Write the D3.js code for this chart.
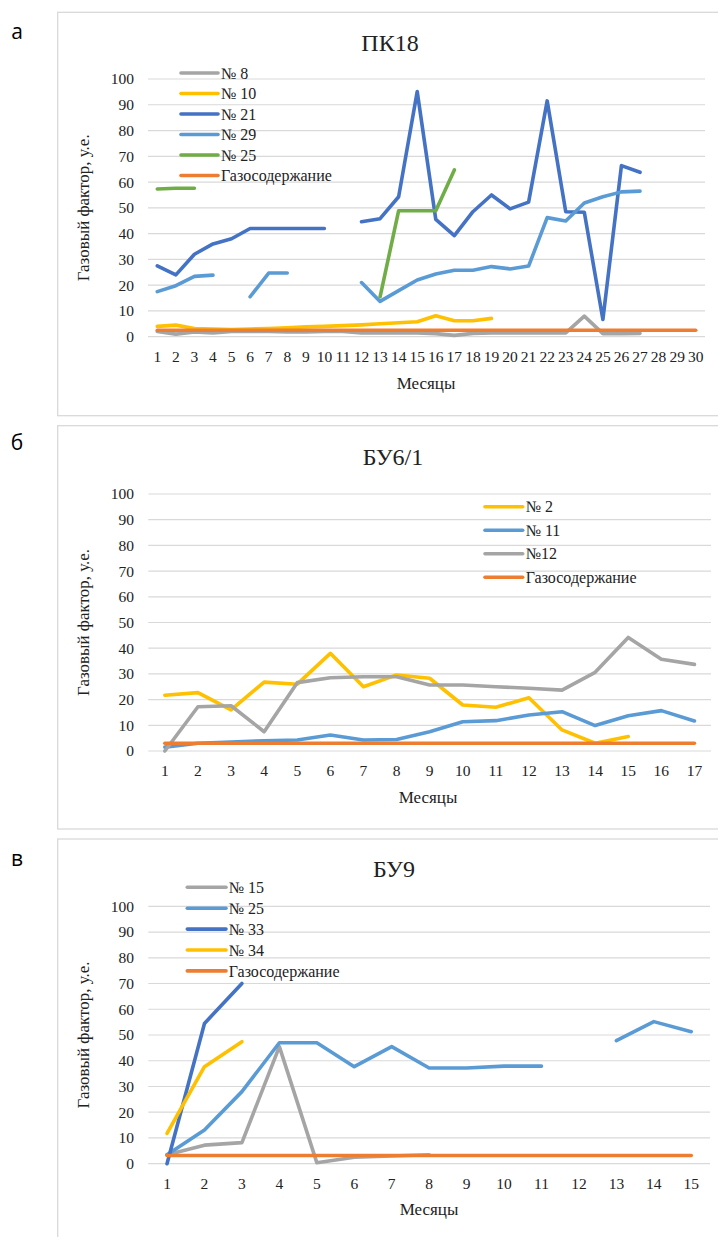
<!DOCTYPE html>
<html>
<head>
    <meta charset="UTF-8">
    <script src="https://d3js.org/d3.v7.min.js"></script>
</head>
<body style="margin:0">
<script>
    // Panel a: ПК18, months 1..30
    const monthsA = d3.range(1, 31);
    const pk_n8  = [2, 1, 1.8, 1.5, 2, 2, 2, 1.8, 1.8, 2, 2, 1.5, 1.5, 1.5, 1.5, 1.2, 0.5, 1.3, 1.5, 1.5, 1.5, 1.5, 1.5, 8, 1.2, 1.2, 1.3];
    const pk_n10 = [4, 4.5, 3.2, 3, 2.8, 3, 3.2, 3.5, 3.8, 4, 4.3, 4.6, 5, 5.4, 5.8, 8.1, 6.2, 6.2, 7.1];
    const pk_n21 = [27.5, 24, 32, 36, 38, 42, 42, 42, 42, 42, null, 44.6, 45.8, 54.3, 95.1, 45.5, 39.2, 48.5, 55, 49.6, 52.2, 91.5, 48.5, 48.3, 6.7, 66.4, 63.8];
    const pk_n29 = [17.5, 19.8, 23.4, 23.9, null, 15.5, 24.7, 24.7, null, null, null, 21, 13.7, 17.9, 22, 24.3, 25.8, 25.8, 27.2, 26.3, 27.4, 46.2, 44.9, 51.9, 54.3, 56.2, 56.5];
    const pk_n25 = [57.3, 57.6, 57.6, null, null, null, null, null, null, null, null, null, 15.5, 48.9, 48.9, 48.9, 64.7];
    const pk_gas = monthsA.map(() => 2.5);

    // Panel b: БУ6/1, months 1..17
    const monthsB = d3.range(1, 18);
    const bu6_n2  = [21.7, 22.7, 16, 26.8, 26, 38, 25, 29.6, 28.3, 17.9, 17, 20.7, 8.2, 3, 5.6];
    const bu6_n11 = [1.5, 3, 3.5, 4, 4.3, 6.2, 4.3, 4.5, 7.5, 11.4, 11.8, 14, 15.3, 9.9, 13.7, 15.7, 11.7];
    const bu6_n12 = [0, 17.2, 17.6, 7.5, 26.6, 28.5, 28.9, 28.9, 25.7, 25.7, 25, 24.4, 23.7, 30.6, 44.2, 35.7, 33.7];
    const bu6_gas = monthsB.map(() => 3);

    // Panel c: БУ9, months 1..15
    const monthsC = d3.range(1, 16);
    const bu9_n15 = [3.5, 7.2, 8.2, 45.5, 0.4, 2.5, 3, 3.5];
    const bu9_n25 = [3.5, 13.1, 28, 47, 47, 37.7, 45.5, 37.2, 37.2, 37.9, 37.9, null, 47.8, 55.2, 51.3];
    const bu9_n33 = [0, 54.5, 70];
    const bu9_n34 = [11.8, 37.7, 47.4];
    const bu9_gas = monthsC.map(() => 3.2);

    const yTicks = d3.range(0, 101, 10);
    const C = { gray: "#A5A5A5", yellow: "#FFC000", blue: "#4472C4", lblue: "#5B9BD5", green: "#70AD47", orange: "#ED7D31" };
    const SERIF = "serif";

    const panels = [
        {
            letter: "а", title: "ПК18", months: monthsA,
            series: [
                { name: "№ 8", color: C.gray, values: pk_n8 },
                { name: "№ 10", color: C.yellow, values: pk_n10 },
                { name: "№ 21", color: C.blue, values: pk_n21 },
                { name: "№ 29", color: C.lblue, values: pk_n29 },
                { name: "№ 25", color: C.green, values: pk_n25 },
                { name: "Газосодержание", color: C.orange, values: pk_gas }
            ],
            box: [12.3, 415.7], plot: { left: 148, right: 705, top: 79, bottom: 336.7 },
            titleXY: [390, 43], letterY: 32, xLabY: 357, xTitleXY: [426, 383],
            legend: { x1: 181, x2: 218, tx: 221, y0: 73, dy: 20.5 }
        },
        {
            letter: "б", title: "БУ6/1", months: monthsB,
            series: [
                { name: "№ 2", color: C.yellow, values: bu6_n2 },
                { name: "№ 11", color: C.lblue, values: bu6_n11 },
                { name: "№12", color: C.gray, values: bu6_n12 },
                { name: "Газосодержание", color: C.orange, values: bu6_gas }
            ],
            box: [425.7, 829], plot: { left: 148.3, right: 711, top: 494, bottom: 751 },
            titleXY: [393, 456.7], letterY: 443, xLabY: 771, xTitleXY: [428, 796.7],
            legend: { x1: 485, x2: 522.7, tx: 525.7, y0: 506.7, dy: 23.5 }
        },
        {
            letter: "в", title: "БУ9", months: monthsC,
            series: [
                { name: "№ 15", color: C.gray, values: bu9_n15 },
                { name: "№ 25", color: C.lblue, values: bu9_n25 },
                { name: "№ 33", color: C.blue, values: bu9_n33 },
                { name: "№ 34", color: C.yellow, values: bu9_n34 },
                { name: "Газосодержание", color: C.orange, values: bu9_gas }
            ],
            box: [839, 1260], plot: { left: 148.3, right: 710, top: 906.3, bottom: 1163.7 },
            titleXY: [394, 868.3], letterY: 859, xLabY: 1184, xTitleXY: [429, 1209],
            legend: { x1: 187.3, x2: 226, tx: 228.7, y0: 887.3, dy: 20.9 }
        }
    ];

    const svg = d3.select("body").append("svg").attr("width", 718).attr("height", 1237);

    panels.forEach(p => {
        // frame
        svg.append("rect")
            .attr("x", 57.7).attr("y", p.box[0])
            .attr("width", 720).attr("height", p.box[1] - p.box[0])
            .attr("fill", "none").attr("stroke", "#D9D9D9").attr("stroke-width", 1.3);

        svg.append("text")
            .attr("x", 17).attr("y", p.letterY).attr("dy", "0.35em")
            .attr("text-anchor", "middle")
            .style("font-family", "Open Sans").style("font-size", "21px").style("fill", "#000")
            .text(p.letter);

        const x = d3.scaleBand().domain(p.months).range([p.plot.left, p.plot.right]);
        const y = d3.scaleLinear().domain([0, 100]).range([p.plot.bottom, p.plot.top]);
        const cx = m => x(m) + x.bandwidth() / 2;

        // gridlines
        svg.append("g").selectAll("line").data(yTicks).join("line")
            .attr("x1", p.plot.left).attr("x2", p.plot.right)
            .attr("y1", d => y(d)).attr("y2", d => y(d))
            .attr("stroke", "#D9D9D9").attr("stroke-width", 1.2);

        // y tick labels
        svg.append("g").selectAll("text").data(yTicks).join("text")
            .attr("x", 134).attr("y", d => y(d)).attr("dy", "0.35em")
            .attr("text-anchor", "end")
            .style("font-family", SERIF).style("font-size", "15.5px").style("fill", "#222")
            .text(d => d);

        // x tick labels
        svg.append("g").selectAll("text").data(p.months).join("text")
            .attr("x", d => cx(d)).attr("y", p.xLabY).attr("dy", "0.35em")
            .attr("text-anchor", "middle")
            .style("font-family", SERIF).style("font-size", "15.5px").style("fill", "#222")
            .text(d => d);

        // titles
        svg.append("text").attr("x", p.titleXY[0]).attr("y", p.titleXY[1]).attr("dy", "0.35em")
            .attr("text-anchor", "middle")
            .style("font-family", SERIF).style("font-size", "24px").style("fill", "#222")
            .text(p.title);
        svg.append("text").attr("x", p.xTitleXY[0]).attr("y", p.xTitleXY[1]).attr("dy", "0.35em")
            .attr("text-anchor", "middle")
            .style("font-family", SERIF).style("font-size", "17px").style("fill", "#222")
            .text("Месяцы");
        svg.append("text")
            .attr("transform", `translate(83,${(p.plot.top + p.plot.bottom) / 2}) rotate(-90)`)
            .attr("dy", "0.35em").attr("text-anchor", "middle")
            .style("font-family", SERIF).style("font-size", "17px").style("fill", "#222")
            .text("Газовый фактор, у.е.");

        // lines
        const line = d3.line()
            .defined(d => d.v != null)
            .x(d => cx(d.m)).y(d => y(d.v));

        p.series.forEach(s => {
            const pts = s.values.map((v, i) => ({ m: p.months[i], v: v }));
            svg.append("path").datum(pts)
                .attr("d", line)
                .attr("fill", "none").attr("stroke", s.color)
                .attr("stroke-width", 3.6).attr("stroke-linecap", "round").attr("stroke-linejoin", "round");
        });

        // legend
        const lg = svg.append("g").selectAll("g").data(p.series).join("g")
            .attr("transform", (d, i) => `translate(0,${p.legend.y0 + i * p.legend.dy})`);
        lg.append("line").attr("x1", p.legend.x1).attr("x2", p.legend.x2)
            .attr("stroke", d => d.color).attr("stroke-width", 3.6).attr("stroke-linecap", "round");
        lg.append("text").attr("x", p.legend.tx).attr("dy", "0.35em")
            .style("font-family", SERIF).style("font-size", "16px").style("fill", "#222")
            .text(d => d.name);
    });
</script>
</body>
</html>
